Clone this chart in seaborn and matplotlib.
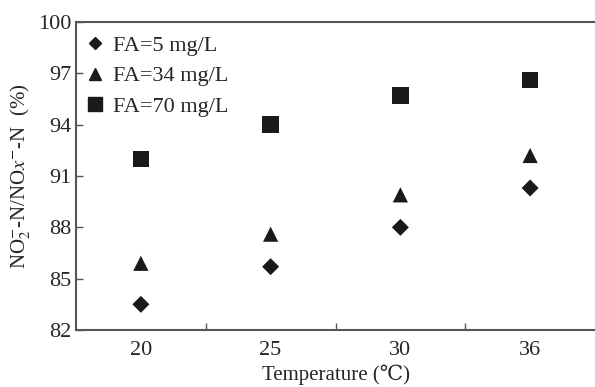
import pandas as pd
import matplotlib.pyplot as plt
import seaborn as sns
from matplotlib.lines import Line2D

# data
temps = ['20', '25', '30', '36']
fa_5 = [83.5, 85.7, 88.0, 90.3]
fa_34 = [85.9, 87.6, 89.9, 92.2]
fa_70 = [92.0, 94.0, 95.7, 96.6]
series_names = ['FA=5 mg/L', 'FA=34 mg/L', 'FA=70 mg/L']
y_ticks = [82, 85, 88, 91, 94, 97, 100]

df = pd.DataFrame({
    'Temperature': temps * 3,
    'ratio': fa_5 + fa_34 + fa_70,
    'FA': [n for n in series_names for _ in temps],
})

sns.set_style('ticks')
plt.rcParams['font.family'] = ['Liberation Serif', 'DejaVu Serif', 'DejaVu Sans']
plt.rcParams['mathtext.fontset'] = 'stix'

fig = plt.figure(figsize=(5.95, 3.87), dpi=100)
ax = fig.add_axes([76 / 595, 57 / 387, 519 / 595, 308 / 387])

markers = {'FA=5 mg/L': 'D', 'FA=34 mg/L': '^', 'FA=70 mg/L': 's'}
sizes = {'FA=5 mg/L': 75, 'FA=34 mg/L': 120, 'FA=70 mg/L': 140}
for name in series_names:
    sub = df[df['FA'] == name]
    sns.scatterplot(data=sub, x='Temperature', y='ratio', marker=markers[name],
                    s=sizes[name], color='#1a1a1a', edgecolor='none', ax=ax, legend=False)

ax.set_xlim(-0.5, 3.5)
ax.set_ylim(82, 100)
ax.set_yticks(y_ticks)
ax.set_xticks(range(len(temps)))
ax.set_xticklabels(temps)
ax.set_xticks([0.5, 1.5, 2.5], minor=True)
ax.tick_params(axis='x', which='major', length=0, pad=8, labelsize=16)
ax.tick_params(axis='x', which='minor', direction='in', length=5, width=1, color='#555555')
ax.tick_params(axis='y', direction='in', length=5, width=1, color='#555555', labelsize=16, pad=3)

for side in ['left', 'bottom', 'top']:
    ax.spines[side].set_color('#555555')
    ax.spines[side].set_linewidth(1.5)
ax.spines['right'].set_visible(False)

ax.set_xlabel('Temperature (℃)', fontsize=15, labelpad=3)
ax.set_ylabel(r'NO$_2^{-}$-N/NO$\mathit{x}^{-}$-N  (%)', fontsize=15, labelpad=4)

handles = [
    Line2D([], [], marker='D', linestyle='none', color='#1a1a1a', markersize=6.5),
    Line2D([], [], marker='^', linestyle='none', color='#1a1a1a', markersize=8.5),
    Line2D([], [], marker='s', linestyle='none', color='#1a1a1a', markersize=10),
]
ax.legend(handles, series_names, loc='upper left', bbox_to_anchor=(-0.01, 1.0),
          frameon=False, fontsize=16, handletextpad=0.3, labelspacing=0.45,
          borderaxespad=0.1, handlelength=1.0, borderpad=0.5)

fig.savefig('out.png', dpi=100)
